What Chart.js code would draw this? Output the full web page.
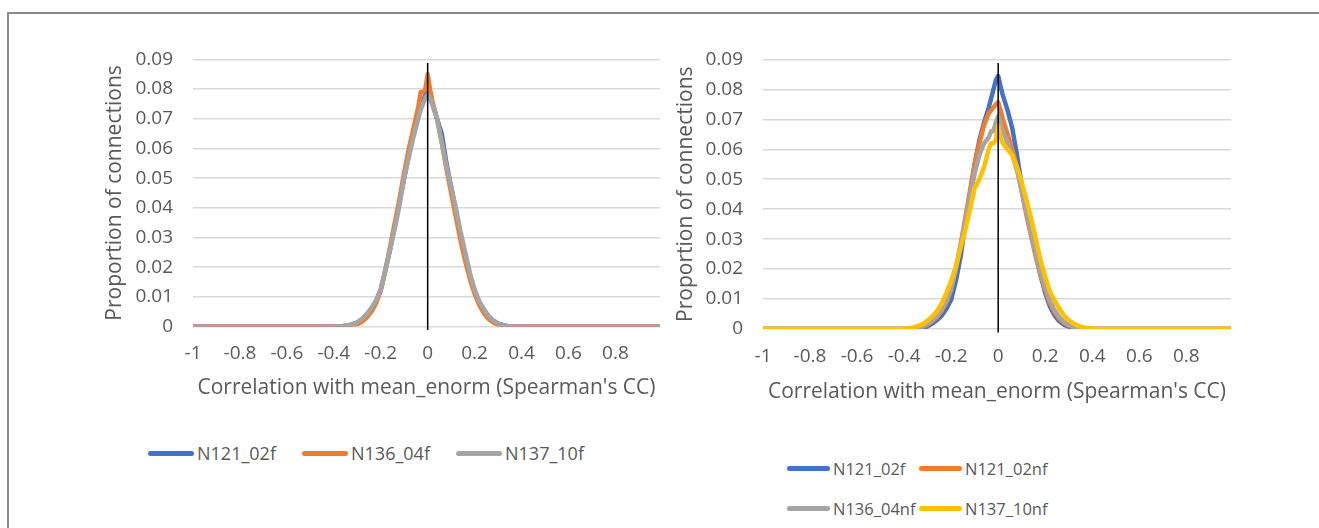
<!DOCTYPE html>
<html>
<head>
<meta charset="utf-8">
<script src="https://cdn.jsdelivr.net/npm/chart.js@4.4.1/dist/chart.umd.min.js"></script>
<style>
  body { margin: 0; background: #fff; width: 1319px; height: 528px; overflow: hidden; position: relative; font-family: "Open Sans", sans-serif; }
  #frame { position: absolute; left: 7px; top: 12px; width: 1340px; height: 560px; border: 2px solid #8a8a8a; }
  canvas { position: absolute; }
  .item { position: absolute; height: 24px; display: flex; align-items: center; white-space: nowrap; color: #595959; }
  .swatch { display: inline-block; height: 5px; border-radius: 3px; margin-right: 3px; }
</style>
</head>
<body>
<div id="frame"></div>
<canvas id="chartLeft" width="590" height="382" style="left:95px;top:28px"></canvas>
<canvas id="chartRight" width="590" height="387" style="left:665px;top:28px"></canvas>
<div id="legendLeft"></div>
<div id="legendRight"></div>
<script>
// bins of the correlation histogram (Spearman's CC)
const corrBins = [-1,
  -0.4, -0.38, -0.36, -0.34, -0.32, -0.3, -0.28, -0.26, -0.24, -0.22,
  -0.2, -0.18, -0.16, -0.14, -0.12, -0.1, -0.08, -0.06, -0.04,
  -0.03, -0.02, -0.01, 0, 0.01, 0.02,
  0.04, 0.06, 0.08, 0.1, 0.12, 0.14, 0.16, 0.18, 0.2,
  0.22, 0.24, 0.26, 0.28, 0.3, 0.32, 0.34, 0.36, 0.38, 0.4,
  0.99]

const xTickValues = [-1, -0.8, -0.6, -0.4, -0.2, 0, 0.2, 0.4, 0.6, 0.8]
const yTickValues = [0, 0.01, 0.02, 0.03, 0.04, 0.05, 0.06, 0.07, 0.08, 0.09]

// left panel
const leftLabels = ["N121_02f", "N136_04f", "N137_10f"]
const leftN121_02f = [0,
  0, 0.0001, 0.0002, 0.0004, 0.0008, 0.0013, 0.0024, 0.004, 0.006, 0.0086,
  0.0125, 0.019, 0.026, 0.034, 0.042, 0.05, 0.058, 0.065, 0.071,
  0.074, 0.076, 0.078, 0.079, 0.077, 0.075,
  0.07, 0.065, 0.055, 0.047, 0.039, 0.031, 0.024, 0.017, 0.012,
  0.008, 0.0052, 0.0032, 0.0018, 0.001, 0.0005, 0.0002, 0.0001, 0, 0,
  0]
const leftN136_04f = [0,
  0, 0, 0.0001, 0.0002, 0.0004, 0.0008, 0.0016, 0.003, 0.005, 0.0078,
  0.012, 0.019, 0.027, 0.035, 0.043, 0.052, 0.06, 0.067, 0.074,
  0.079, 0.079, 0.08, 0.085, 0.08, 0.076,
  0.07, 0.062, 0.053, 0.045, 0.037, 0.029, 0.022, 0.016, 0.011,
  0.0072, 0.0044, 0.0025, 0.0013, 0.0006, 0.0003, 0.0001, 0, 0, 0,
  0]
const leftN137_10f = [0,
  0, 0.0001, 0.0002, 0.0004, 0.0008, 0.0014, 0.0026, 0.0042, 0.0062, 0.0088,
  0.0125, 0.019, 0.026, 0.033, 0.041, 0.05, 0.057, 0.064, 0.07,
  0.073, 0.075, 0.077, 0.078, 0.077, 0.075,
  0.07, 0.062, 0.054, 0.047, 0.04, 0.032, 0.025, 0.018, 0.0125,
  0.0085, 0.0058, 0.0036, 0.002, 0.0011, 0.0005, 0.0002, 0.0001, 0, 0,
  0]

// right panel
const rightLabels = ["N121_02f", "N121_02nf", "N136_04nf", "N137_10nf"]
const rightN121_02f = [0,
  0, 0, 0.0001, 0.0002, 0.0004, 0.0009, 0.0018, 0.003, 0.0045, 0.0068,
  0.0098, 0.016, 0.024, 0.035, 0.045, 0.055, 0.063, 0.069, 0.074,
  0.077, 0.08, 0.083, 0.0845, 0.081, 0.078,
  0.073, 0.067, 0.058, 0.048, 0.04, 0.033, 0.025, 0.018, 0.012,
  0.0075, 0.0045, 0.0026, 0.0014, 0.0008, 0.0004, 0.0002, 0.0001, 0, 0,
  0]
const rightN121_02nf = [0,
  0, 0, 0.0002, 0.0004, 0.0008, 0.0014, 0.0026, 0.004, 0.006, 0.0088,
  0.013, 0.02, 0.028, 0.037, 0.046, 0.055, 0.062, 0.068, 0.072,
  0.073, 0.074, 0.075, 0.0757, 0.073, 0.07,
  0.065, 0.06, 0.054, 0.046, 0.038, 0.031, 0.024, 0.018, 0.013,
  0.0085, 0.0055, 0.0034, 0.002, 0.0011, 0.0006, 0.0003, 0.0001, 0, 0,
  0]
const rightN136_04nf = [0,
  0, 0.0001, 0.0002, 0.0005, 0.001, 0.0017, 0.003, 0.0045, 0.0066, 0.0095,
  0.0135, 0.02, 0.028, 0.036, 0.044, 0.052, 0.058, 0.062, 0.064,
  0.066, 0.066, 0.069, 0.071, 0.068, 0.066,
  0.062, 0.058, 0.053, 0.046, 0.039, 0.032, 0.025, 0.019, 0.014,
  0.0095, 0.0062, 0.004, 0.0024, 0.0014, 0.0008, 0.0004, 0.0002, 0.0001, 0,
  0]
const rightN137_10nf = [0,
  0.0001, 0.0002, 0.0005, 0.001, 0.0017, 0.0028, 0.0042, 0.006, 0.0085, 0.012,
  0.016, 0.021, 0.027, 0.033, 0.04, 0.047, 0.05, 0.054, 0.06,
  0.062, 0.062, 0.063, 0.068, 0.064, 0.062,
  0.06, 0.058, 0.054, 0.049, 0.043, 0.037, 0.03, 0.023, 0.0175,
  0.0125, 0.0095, 0.0068, 0.0045, 0.003, 0.0018, 0.001, 0.0006, 0.0003, 0.0001,
  0]

// the black line at x = 0
const zeroLineX = [0, 0]
const zeroLineY = [-0.0012, 0.0888]

const seriesColors = ["#4472C4", "#ED7D31", "#A5A5A5", "#FFC000"]
const textColor = "#595959"
const gridColor = "#D9D9D9"

function toPoints(xs, ys) {
    return xs.map((x, i) => ({ x: x, y: ys[i] }))
}

function buildDatasets(labels, values) {
    let sets = []
    for (let i = 0; i < labels.length; i++) {
        sets.push({
            label: labels[i],
            data: toPoints(corrBins, values[i]),
            borderColor: seriesColors[i],
            backgroundColor: seriesColors[i],
            borderWidth: 4.5,
            pointRadius: 0,
            tension: 0,
            borderJoinStyle: "round",
            borderCapStyle: "round",
            order: labels.length - i + 1
        })
    }
    sets.push({
        label: "axis",
        data: toPoints(zeroLineX, zeroLineY),
        borderColor: "#000",
        borderWidth: 1.5,
        pointRadius: 0,
        clip: false,
        order: 0
    })
    return sets
}

// the plot top lands at canvas top + tick padding + half a tick label
function makeChart(canvas, datasets, box) {
    return new Chart(canvas, {
        type: "line",
        data: { datasets: datasets },
        options: {
            responsive: false,
            animation: false,
            devicePixelRatio: 1,
            layout: { padding: { left: 0, top: 0, right: box.right, bottom: 0 } },
            plugins: { legend: { display: false }, tooltip: { enabled: false } },
            scales: {
                x: {
                    type: "linear",
                    min: -1,
                    max: 0.99,
                    afterBuildTicks: (scale) => { scale.ticks = xTickValues.map(v => ({ value: v })) },
                    afterFit: (scale) => { scale.height = box.xHeight },
                    grid: { display: false, drawTicks: false },
                    border: { display: false },
                    ticks: {
                        color: textColor,
                        font: { family: "Open Sans", size: 19 },
                        padding: 16,
                        maxRotation: 0,
                        autoSkip: false,
                        callback: (v) => String(Math.round(v * 10) / 10)
                    },
                    title: {
                        display: true,
                        text: "Correlation with mean_enorm (Spearman's CC)",
                        color: textColor,
                        font: { family: "Open Sans", size: 21 },
                        padding: { top: 0, bottom: box.xTitleGap }
                    }
                },
                y: {
                    min: 0,
                    max: 0.09,
                    afterBuildTicks: (scale) => { scale.ticks = yTickValues.map(v => ({ value: v })) },
                    afterFit: (scale) => { scale.width = box.yWidth },
                    grid: { color: gridColor, lineWidth: 1.5, drawTicks: false },
                    border: { display: false },
                    ticks: {
                        color: textColor,
                        font: { family: "Open Sans", size: 19 },
                        padding: 20,
                        callback: (v) => String(+v.toFixed(2))
                    },
                    title: {
                        display: true,
                        text: "Proportion of connections",
                        color: textColor,
                        font: { family: "Open Sans", size: 21 },
                        padding: { top: box.yTitleGap, bottom: 0 }
                    }
                }
            }
        }
    })
}

function makeLegend(holder, labels, spots, lineLength, fontSize) {
    const el = document.getElementById(holder)
    labels.forEach((name, i) => {
        const item = document.createElement("div")
        item.className = "item"
        item.style.left = spots[i][0] + "px"
        item.style.top = (spots[i][1] - 12) + "px"
        item.style.fontSize = fontSize + "px"
        const sw = document.createElement("span")
        sw.className = "swatch"
        sw.style.width = lineLength + "px"
        sw.style.background = seriesColors[i]
        item.appendChild(sw)
        item.appendChild(document.createTextNode(name))
        el.appendChild(item)
    })
}

makeChart(document.getElementById("chartLeft"),
    buildDatasets(leftLabels, [leftN121_02f, leftN136_04f, leftN137_10f]),
    { right: 25, yWidth: 98, xHeight: 83.5, xTitleGap: 9.4, yTitleGap: 7.4 })

makeChart(document.getElementById("chartRight"),
    buildDatasets(rightLabels, [rightN121_02f, rightN121_02nf, rightN136_04nf, rightN137_10nf]),
    { right: 24, yWidth: 98, xHeight: 86, xTitleGap: 10.4, yTitleGap: 8.4 })

makeLegend("legendLeft", leftLabels, [[148, 453], [302, 453], [456, 453]], 46, 18)
makeLegend("legendRight", rightLabels, [[787, 468], [919, 468], [787, 508], [919, 508]], 43, 16.5)
</script>
</body>
</html>
